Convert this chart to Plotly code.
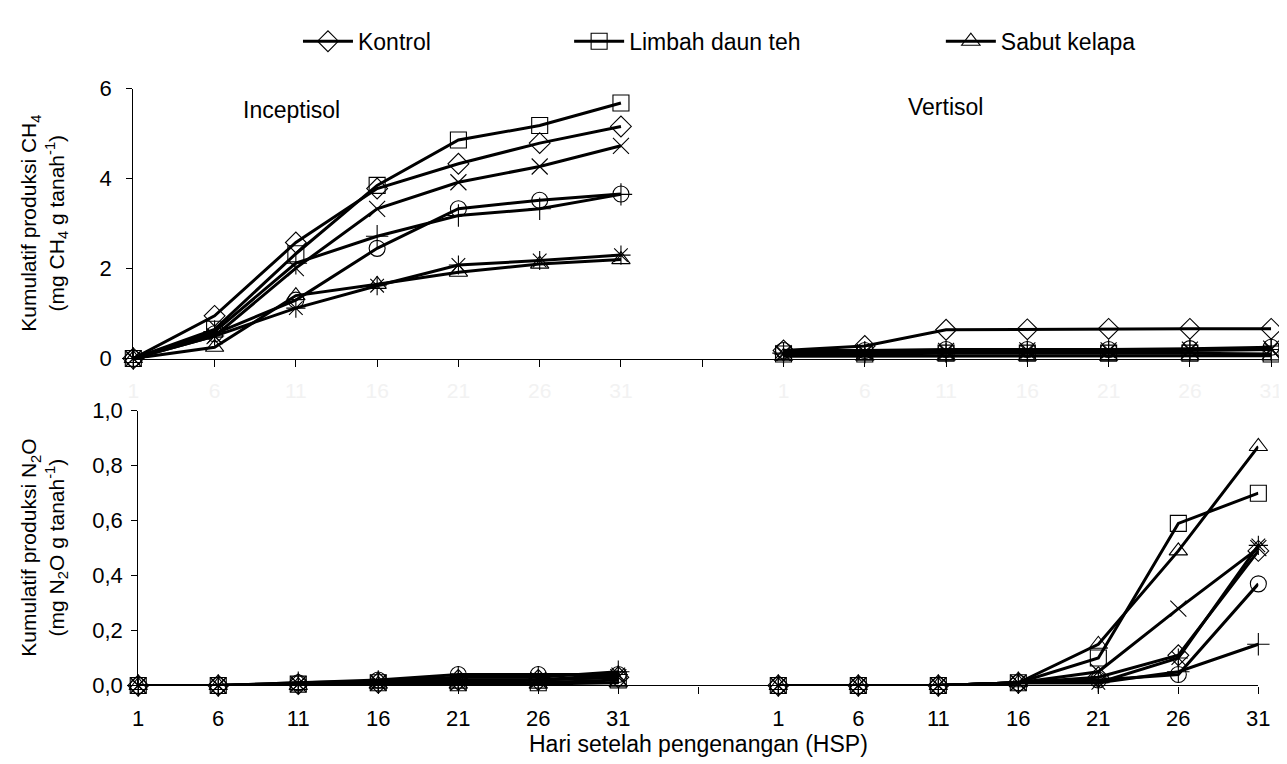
import plotly.graph_objects as go

days = [1, 6, 11, 16, 21, 26, 31]

series_names = ["Kontrol", "Limbah daun teh", "Sabut kelapa",
                "Perlakuan 4", "Perlakuan 5", "Perlakuan 6", "Perlakuan 7"]
symbols = ["diamond-open", "square-open", "triangle-up-open",
           "x-thin-open", "circle-open", "cross-thin-open", "asterisk-open"]
in_legend = [True, True, True, False, False, False, False]

# CH4 cumulative (mg CH4 g tanah-1)
ch4_incept = {
    "Kontrol":         [0, 0.95, 2.58, 3.78, 4.33, 4.79, 5.16],
    "Limbah daun teh": [0, 0.65, 2.33, 3.85, 4.86, 5.18, 5.68],
    "Sabut kelapa":    [0, 0.25, 1.40, 1.65, 1.92, 2.10, 2.20],
    "Perlakuan 4":     [0, 0.50, 2.01, 3.33, 3.92, 4.27, 4.73],
    "Perlakuan 5":     [0, 0.55, 1.30, 2.45, 3.33, 3.52, 3.66],
    "Perlakuan 6":     [0, 0.60, 2.12, 2.72, 3.18, 3.33, 3.65],
    "Perlakuan 7":     [0, 0.50, 1.12, 1.62, 2.08, 2.18, 2.30],
}
ch4_verti = {
    "Kontrol":         [0.18, 0.28, 0.64, 0.65, 0.66, 0.66, 0.66],
    "Limbah daun teh": [0.10, 0.10, 0.12, 0.12, 0.12, 0.12, 0.10],
    "Sabut kelapa":    [0.05, 0.05, 0.05, 0.05, 0.05, 0.06, 0.06],
    "Perlakuan 4":     [0.12, 0.15, 0.17, 0.18, 0.18, 0.20, 0.22],
    "Perlakuan 5":     [0.18, 0.18, 0.20, 0.20, 0.20, 0.22, 0.25],
    "Perlakuan 6":     [0.12, 0.14, 0.15, 0.16, 0.17, 0.19, 0.20],
    "Perlakuan 7":     [0.10, 0.12, 0.14, 0.15, 0.16, 0.18, 0.20],
}
# N2O cumulative (mg N2O g tanah-1)
n2o_incept = {
    "Kontrol":         [0, 0, 0.005, 0.010, 0.020, 0.020, 0.030],
    "Limbah daun teh": [0, 0, 0.005, 0.010, 0.010, 0.010, 0.020],
    "Sabut kelapa":    [0, 0, 0.000, 0.005, 0.005, 0.005, 0.010],
    "Perlakuan 4":     [0, 0, 0.005, 0.010, 0.010, 0.020, 0.030],
    "Perlakuan 5":     [0, 0, 0.010, 0.020, 0.040, 0.040, 0.040],
    "Perlakuan 6":     [0, 0, 0.010, 0.015, 0.030, 0.030, 0.050],
    "Perlakuan 7":     [0, 0, 0.005, 0.010, 0.020, 0.020, 0.040],
}
n2o_verti = {
    "Kontrol":         [0, 0, 0, 0.01, 0.03, 0.11, 0.49],
    "Limbah daun teh": [0, 0, 0, 0.01, 0.10, 0.59, 0.70],
    "Sabut kelapa":    [0, 0, 0, 0.01, 0.15, 0.49, 0.87],
    "Perlakuan 4":     [0, 0, 0, 0.01, 0.05, 0.28, 0.50],
    "Perlakuan 5":     [0, 0, 0, 0.01, 0.02, 0.04, 0.37],
    "Perlakuan 6":     [0, 0, 0, 0.01, 0.01, 0.05, 0.15],
    "Perlakuan 7":     [0, 0, 0, 0.01, 0.01, 0.10, 0.51],
}

ch4_ticks = [0, 2, 4, 6]
n2o_ticks = [0, 0.2, 0.4, 0.6, 0.8, 1.0]
n2o_ticktext = ["0,0", "0,2", "0,4", "0,6", "0,8", "1,0"]

# category positions: Inceptisol 0..6, gap at 7, Vertisol 8..14
pos_incept = list(range(len(days)))
pos_verti = [p + len(days) + 1 for p in pos_incept]
xpos = pos_incept + [None] + pos_verti
tickvals = list(range(len(days) * 2 + 1))
ticktext = [str(d) for d in days] + [""] + [str(d) for d in days]

W, H = 1287, 764
FONT = "Liberation Sans, Arial, sans-serif"
fig = go.Figure()

legend_ids = {"Kontrol": "legend", "Limbah daun teh": "legend2", "Sabut kelapa": "legend3"}

for name, sym, leg in zip(series_names, symbols, in_legend):
    for (inc, ver, xa, ya, show) in [(ch4_incept, ch4_verti, "x", "y", leg),
                                     (n2o_incept, n2o_verti, "x2", "y2", False)]:
        yvals = inc[name] + [None] + ver[name]
        kw = {}
        if show:
            kw["legend"] = legend_ids[name]
        fig.add_trace(go.Scatter(
            x=xpos, y=yvals, name=name, mode="lines+markers",
            xaxis=xa, yaxis=ya, showlegend=show, cliponaxis=False,
            line=dict(color="black", width=3),
            marker=dict(symbol=sym, size=16, color="black",
                        line=dict(color="black", width=1.1)),
            connectgaps=False, **kw))

xcommon = dict(range=[0, 14], tickvals=tickvals, ticktext=ticktext,
               showline=True, linecolor="black", linewidth=1.2,
               ticks="outside", ticklen=7, tickcolor="black",
               showgrid=False, zeroline=False, ticklabelstandoff=6)
ycommon = dict(showline=True, linecolor="black", linewidth=1.2,
               ticks="outside", ticklen=6, tickcolor="black",
               showgrid=False, zeroline=False,
               tickfont=dict(size=22))

fig.update_layout(
    width=W, height=H,
    paper_bgcolor="white", plot_bgcolor="white",
    margin=dict(l=0, r=0, t=0, b=0),
    font=dict(family=FONT, size=21, color="black"),
    xaxis=dict(**xcommon, anchor="y", domain=[121 / W, 1275 / W],
               tickfont=dict(size=21, color="#f2f2f2")),
    xaxis2=dict(**xcommon, anchor="y2", domain=[126 / W, 1262 / W],
                tickfont=dict(size=22, color="black")),
    yaxis=dict(**ycommon, range=[0, 6], tickvals=ch4_ticks, anchor="x",
               domain=[1 - 350 / H, 1 - 71 / H], ticklabelstandoff=10),
    yaxis2=dict(**ycommon, range=[0, 1.0], tickvals=n2o_ticks,
                ticktext=n2o_ticktext, anchor="x2",
                domain=[1 - 688 / H, 1 - 404 / H], ticklabelstandoff=4),
    showlegend=True,
)

leg_common = dict(orientation="h", yanchor="middle", y=1 - 22 / H,
                  xanchor="left", bgcolor="rgba(0,0,0,0)",
                  font=dict(size=23, family=FONT), itemwidth=50)
fig.update_layout(
    legend=dict(**leg_common, x=288 / W),
    legend2=dict(**leg_common, x=563 / W),
    legend3=dict(**leg_common, x=940 / W),
)

annotations = [
    dict(text="Inceptisol", x=281, y=93, size=23),
    dict(text="Vertisol", x=945, y=90, size=23),
    dict(text="Hari setelah pengenangan (HSP)", x=694, y=748, size=23),
    dict(text="Kumulatif produksi CH<sub>4</sub><br>(mg CH<sub>4</sub> g tanah<sup>-1</sup>)",
         x=31, y=210, size=21, angle=-90),
    dict(text="Kumulatif produksi N<sub>2</sub>O<br>(mg N<sub>2</sub>O g tanah<sup>-1</sup>)",
         x=31, y=546, size=21, angle=-90),
]
for a in annotations:
    fig.add_annotation(text=a["text"], x=a["x"] / W, y=1 - a["y"] / H,
                       xref="paper", yref="paper", showarrow=False,
                       xanchor="center", yanchor="middle",
                       textangle=a.get("angle", 0),
                       font=dict(size=a["size"], family=FONT))

fig.write_html("out.html")
